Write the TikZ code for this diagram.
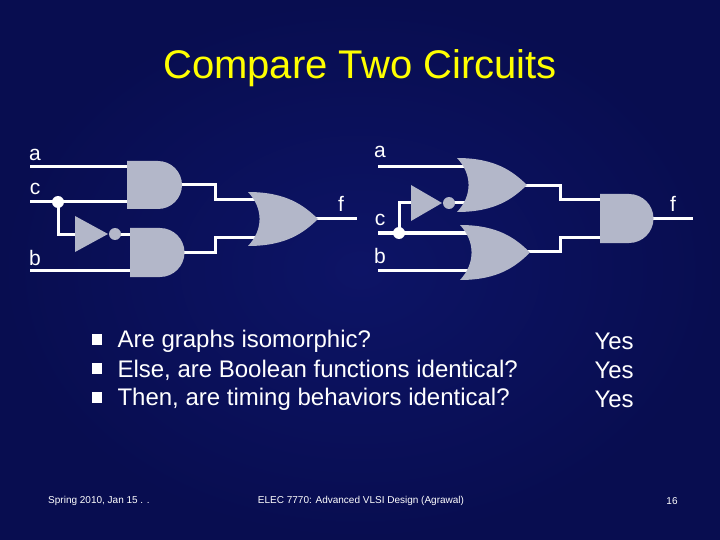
\documentclass[tikz,border=0pt]{standalone}
\usepackage{fontspec}
\setmainfont{Liberation Sans}
\definecolor{bg}{HTML}{0D1466}
\definecolor{bgd}{HTML}{080D50}
\definecolor{gate}{HTML}{B3B7C9}
\definecolor{ttl}{HTML}{FFFF00}
\newcommand{\andg}[4]{% x0 y0 y1 xflat
 \fill[gate] (#1,#2) -- (#4,#2) arc[start angle=-90,end angle=90,radius={(#3-#2)/2}] -- (#1,#3) -- cycle;}
\newcommand{\org}[4]{% x0 y0 y1 x1
 \fill[gate] (#1,#2) .. controls ({#1+0.55*(#4-#1)},#2) and ({#4-0.2*(#4-#1)},{(#2+#3)/2-0.25*(#3-#2)}) .. (#4,{(#2+#3)/2})
  .. controls ({#4-0.2*(#4-#1)},{(#2+#3)/2+0.25*(#3-#2)}) and ({#1+0.55*(#4-#1)},#3) .. (#1,#3)
  .. controls ({#1+0.22*(#4-#1)},{(#2+#3)/2+0.2*(#3-#2)}) and ({#1+0.22*(#4-#1)},{(#2+#3)/2-0.2*(#3-#2)}) .. cycle;}
\newcommand{\inv}[4]{% x0 y0 y1 x1
 \fill[gate] (#1,#2) -- (#4,{(#2+#3)/2}) -- (#1,#3) -- cycle;
 \fill[gate] ({#4+7},{(#2+#3)/2}) circle[radius=6];}
\tikzset{wire/.style={white,line width=3pt},lbl/.style={white,font=\fontsize{21}{21}\selectfont},
 item/.style={white,anchor=west,font=\fontsize{24}{24}\selectfont}}
\begin{document}
\begin{tikzpicture}[x=1pt,y=-1pt]
\useasboundingbox (0,0) rectangle (720,540);
\shade[inner color=bg,outer color=bgd] (0,0) rectangle (720,540);
\node[ttl,font=\fontsize{40}{40}\selectfont] (title) at (360,68) {Compare Two Circuits};
% left circuit
\draw[wire] (30,167) -- (127,167);
\draw[wire] (30,202) -- (127,202);
\draw[wire] (58,202) -- (58,234) -- (76,234);
\draw[wire] (115,234) -- (132,234);
\draw[wire] (30,270) -- (132,270);
\draw[wire] (180,185) -- (215,185) -- (215,200) -- (262,200);
\draw[wire] (180,252) -- (215,252) -- (215,237) -- (262,237);
\draw[wire] (315,219) -- (357,219);
\andg{127}{161}{209}{158}
\andg{130}{228}{277}{160}
\inv{75}{216}{252}{108}
\org{248}{192}{246}{318}
\fill[white] (58,202) circle[radius=6];
\node[lbl] (la) at (35,155) {a};
\node[lbl] (lc) at (35,189) {c};
\node[lbl] (lb) at (35,258) {b};
\node[lbl] (lf) at (341,204) {f};
% right circuit
\draw[wire] (378,167) -- (470,167);
\draw[wire] (399,233) -- (399,203) -- (412,203);
\draw[wire] (450,203) -- (470,203);
\draw[wire] (378,233) -- (472,233);
\draw[wire] (378,270) -- (472,270);
\draw[wire] (524,186) -- (560,186) -- (560,200) -- (602,200);
\draw[wire] (527,251) -- (560,251) -- (560,237) -- (602,237);
\draw[wire] (650,219) -- (693,219);
\org{457}{158}{212}{527}
\org{460}{225}{280}{530}
\inv{411}{185}{221}{442}
\andg{600}{194}{243}{629}
\fill[white] (399,233) circle[radius=6];
\node[lbl] (ra) at (380,152) {a};
\node[lbl] (rc) at (380,220) {c};
\node[lbl] (rb) at (380,256) {b};
\node[lbl] (rf) at (673,204) {f};
% bullets
\foreach \y/\t [count=\i] in {341/{Are graphs isomorphic?},370/{Else, are Boolean functions identical?},399/{Then, are timing behaviors identical?}}{
 \fill[white] (92,{\y-7}) rectangle (102,{\y+4});
 \node[item] (it\i) at (114,\y) {\t};
 \node[item] (y\i) at (591,\y) {Yes};}
\node[white,font=\fontsize{10}{10}\selectfont] (f1) at (99,501) {Spring 2010, Jan 15 . .};
\node[white,font=\fontsize{10}{10}\selectfont] (f2) at (361,501) {ELEC 7770: Advanced VLSI Design (Agrawal)};
\node[white,font=\fontsize{10}{10}\selectfont] (f3) at (672,501) {16};
\end{tikzpicture}
\end{document}
